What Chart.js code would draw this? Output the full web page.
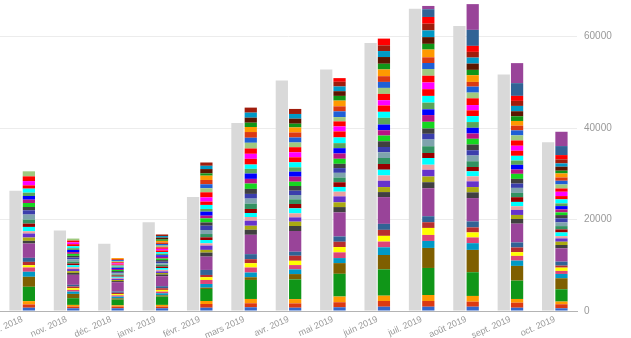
<!DOCTYPE html>
<html>
<head>
<meta charset="utf-8">
<script src="https://cdn.jsdelivr.net/npm/chart.js@4/dist/chart.umd.min.js"></script>
<style>
  html, body { margin: 0; padding: 0; background: #fff; }
  #wrap { width: 631px; height: 338px; }
</style>
</head>
<body>
<div id="wrap"><canvas id="chart"></canvas></div>
<script>
// Months on the x axis
const months = ['oct. 2018', 'nov. 2018', 'déc. 2018', 'janv. 2019', 'févr. 2019', 'mars 2019', 'avr. 2019',
                'mai 2019', 'juin 2019', 'juil. 2019', 'août 2019', 'sept. 2019', 'oct. 2019'];

// Grey bars (total per month)
const totals = [26300, 17600, 14700, 19400, 24900, 41100, 50400, 52800, 58600, 66100, 62300, 51700, 36900];

// Stacked bar: one value per segment (bottom to top), one array per month
const segOct18 = [720, 720, 720, 3130, 2190, 1100, 940, 500, 720, 880, 3130, 590, 720, 880, 500, 940, 720, 880, 1100, 940,
                  720, 880, 720, 810, 720, 880, 720, 940, 1030, 1100, 0, 0, 0, 0, 0, 0, 0, 0, 0, 0];
const segNov18 = [590, 370, 370, 1470, 940, 500, 370, 370, 370, 370, 2190, 420, 380, 460, 400, 440, 380, 420, 470, 400,
                  380, 430, 400, 450, 390, 420, 460, 410, 380, 440, 0, 0, 0, 0, 0, 0, 0, 0, 0, 0];
const segDec18 = [590, 370, 280, 1250, 280, 370, 280, 280, 280, 280, 2040, 250, 230, 260, 220, 240, 270, 230, 250, 220,
                  260, 240, 230, 250, 260, 220, 240, 250, 230, 260, 220, 220, 220, 0, 0, 0, 0, 0, 0, 0];
const segJan19 = [590, 370, 370, 1820, 280, 440, 370, 370, 370, 440, 2190, 380, 320, 360, 340, 390, 330, 350, 370, 320,
                  360, 340, 380, 330, 350, 370, 340, 360, 320, 380, 350, 330, 360, 340, 370, 350, 330, 0, 0, 0];
const segFeb19 = [720, 810, 660, 2630, 280, 810, 880, 590, 500, 1100, 2910, 880, 590, 940, 500, 720, 590, 720, 880, 940,
                  720, 880, 590, 880, 590, 880, 720, 940, 1100, 880, 880, 940, 940, 500, 940, 720, 720, 0, 0, 0];
const segMar19 = [810, 880, 940, 4160, 590, 1030, 1100, 940, 880, 1100, 4230, 1100, 880, 1100, 810, 880, 880, 1160, 1100, 1030,
                  1100, 1160, 1030, 1160, 1030, 940, 1250, 1100, 1160, 1250, 1100, 1250, 1100, 940, 1100, 1100, 1100, 0, 0, 0];
const segApr19 = [720, 940, 940, 4310, 1160, 1030, 940, 940, 1100, 880, 4530, 1100, 940, 940, 880, 1100, 940, 1030, 940, 940,
                  1030, 940, 1100, 1100, 940, 1100, 1100, 1100, 1100, 1030, 1100, 1100, 1100, 810, 1100, 1030, 1100, 0, 0, 0];
const segMay19 = [810, 1100, 1250, 4970, 2340, 1100, 1250, 1160, 1160, 1160, 5260, 1160, 1030, 1310, 1030, 1030, 1030, 1030, 1030, 1030,
                  940, 1100, 1160, 1160, 1100, 1250, 1310, 1100, 1100, 940, 1250, 1100, 1250, 1030, 1030, 1030, 1030, 800, 0, 0];
const segJun19 = [940, 1250, 1160, 5760, 3130, 1690, 1250, 1250, 1310, 1310, 5850, 1100, 1100, 1380, 1160, 1250, 1250, 1310, 1250, 1160,
                  1250, 1250, 1160, 1250, 1470, 1310, 1380, 1160, 1380, 1310, 1310, 1250, 1470, 1250, 1470, 1310, 1250, 1470, 0, 0];
const segJul19 = [940, 1250, 1310, 5910, 4380, 1530, 1310, 1530, 1250, 1310, 6130, 1310, 1250, 1470, 1100, 1470, 1100, 1470, 1470, 1250,
                  1160, 1470, 1470, 1250, 1470, 1470, 1470, 1470, 1470, 1470, 1310, 1250, 1690, 1250, 1470, 1470, 1470, 1470, 1690, 720];
const segAug19 = [940, 1100, 1250, 5190, 4880, 1470, 1250, 1100, 1100, 1310, 5100, 1250, 1160, 1250, 1100, 1100, 940, 1250, 1250, 1160,
                  1250, 1250, 1160, 1250, 1250, 1310, 1250, 1160, 1470, 1250, 1310, 1030, 1470, 1160, 1380, 1310, 1250, 1310, 3500, 5630];
const segSep19 = [720, 1100, 810, 4010, 3220, 1160, 1030, 810, 1030, 1100, 4100, 1030, 880, 1100, 810, 940, 1030, 940, 1100, 940,
                  1030, 1100, 940, 1030, 940, 1030, 1100, 1100, 1160, 1100, 1100, 1030, 1030, 1030, 1100, 1160, 1100, 1100, 2780, 4380];
const segOct19 = [590, 880, 590, 2690, 2410, 940, 660, 720, 440, 880, 2910, 720, 720, 720, 500, 810, 660, 720, 810, 880,
                  720, 590, 660, 720, 590, 880, 720, 940, 720, 880, 810, 720, 880, 590, 880, 720, 880, 940, 1970, 3130];

const monthSegments = [segOct18, segNov18, segDec18, segJan19, segFeb19, segMar19, segApr19,
                       segMay19, segJun19, segJul19, segAug19, segSep19, segOct19];

// Segment colours, bottom to top
const segColors = ['#3366cc', '#dc3912', '#ff9900', '#109618', '#7f5f00', '#0099c6', '#dd4477', '#ffff00', '#b82e2e', '#316395',
                   '#994499', '#404040', '#aaaa11', '#6633cc', '#eaa0a0', '#00ffff', '#990000', '#329262', '#7fa3ad', '#3b3eac',
                   '#404040', '#16d620', '#b91383', '#0000ff', '#5aa55a', '#00ffff', '#ff0000', '#ff00ff', '#ff0000', '#9fc97f',
                   '#1f5fd6', '#dc3912', '#ff9900', '#109618', '#5c1500', '#0099c6', '#a01c0c', '#ff0000', '#316395', '#994499'];

const datasets = [{
    label: 'total',
    data: totals,
    backgroundColor: '#d9d9d9',
    stack: 'total'
}];
segColors.forEach((color, i) => {
    datasets.push({
        label: 'segment ' + (i + 1),
        data: monthSegments.map(m => m[i]),
        backgroundColor: color,
        stack: 'detail'
    });
});

const ctx = document.getElementById('chart').getContext('2d');
new Chart(ctx, {
    type: 'bar',
    data: { labels: months, datasets: datasets },
    options: {
        responsive: true,
        maintainAspectRatio: false,
        animation: false,
        events: [],
        layout: { padding: 0 },
        datasets: {
            bar: { categoryPercentage: 0.6, barPercentage: 0.92, borderWidth: 0 }
        },
        plugins: {
            legend: { display: false },
            tooltip: { enabled: false }
        },
        scales: {
            x: {
                grid: { display: false, drawTicks: false },
                border: { color: '#b4b4b4' },
                ticks: {
                    autoSkip: false,
                    minRotation: 24,
                    maxRotation: 24,
                    padding: 3,
                    color: '#999',
                    font: { family: 'Liberation Sans, Arial, sans-serif', size: 9 }
                },
                afterFit: (scale) => {
                    // first label is allowed to run off the left edge, like the original
                    scale.paddingLeft = 0;
                    scale.paddingRight = 0;
                    scale.height = 27;
                }
            },
            y: {
                position: 'right',
                stacked: true,
                min: 0,
                max: 68000,
                grid: { color: '#ececec', drawTicks: false },
                border: { display: false },
                ticks: {
                    padding: 7,
                    color: '#999',
                    font: { family: 'Liberation Sans, Arial, sans-serif', size: 10 },
                    callback: (v) => String(v)
                },
                afterBuildTicks: (scale) => {
                    scale.ticks = scale.ticks.filter(t => t.value % 20000 === 0);
                },
                afterFit: (scale) => {
                    scale.paddingTop = 0;
                    scale.paddingBottom = 0;
                    scale.width = 54;
                }
            }
        }
    }
});
</script>
</body>
</html>
